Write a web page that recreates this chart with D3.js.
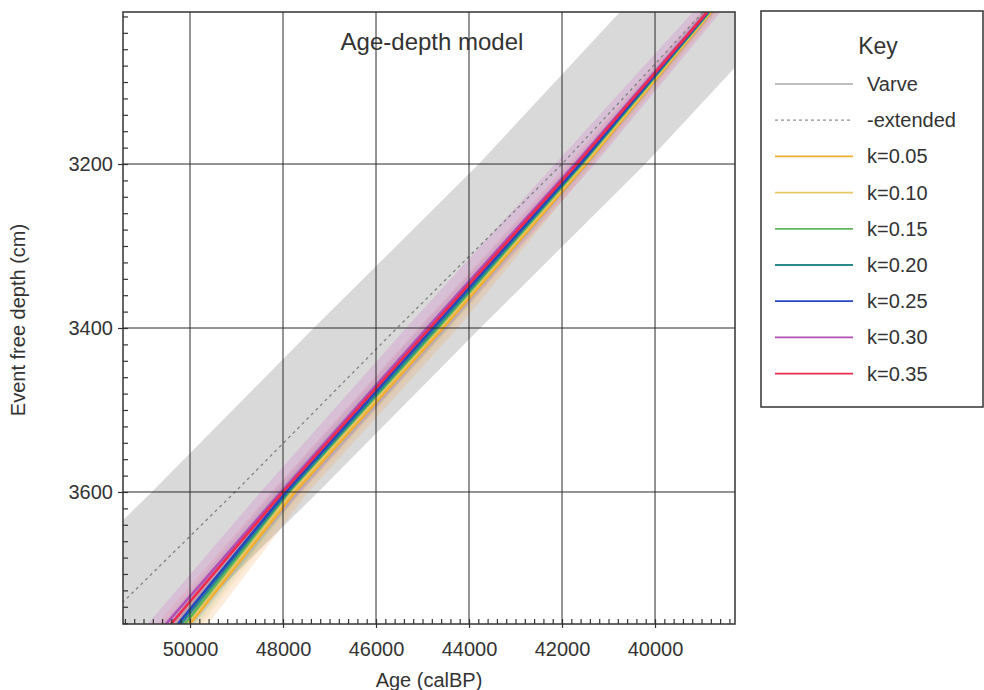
<!DOCTYPE html>
<html>
<head>
<meta charset="utf-8">
<script src="https://cdn.jsdelivr.net/npm/d3@7"></script>
<style>
  html, body { margin: 0; padding: 0; background: #fff; }
  svg { display: block; font-family: "Liberation Sans", Arial, Helvetica, sans-serif; }
</style>
</head>
<body>
<svg id="chart" width="984" height="690"></svg>
<script>
// Depth knots (cm) at which each age-depth curve is given
const depths = [3015, 3200, 3400, 3600, 3761];

// Modelled ages (cal BP) per stiffness value k
const ages_k005 = [38800, 41484, 44559, 47742, 50000];
const ages_k010 = [38820, 41527, 44624, 47806, 50067];
const ages_k015 = [38840, 41570, 44667, 47871, 50110];
const ages_k020 = [38850, 41592, 44710, 47892, 50195];
const ages_k025 = [38870, 41613, 44774, 47935, 50260];
const ages_k030 = [38890, 41721, 44903, 48043, 50518];
const ages_k035 = [38882, 41678, 44839, 48000, 50410];

// Half width (years) of each model's uncertainty envelope
const spread_k005 = [150, 150, 320, 290, 390];
const spread_k010 = [120, 150, 260, 260, 330];
const spread_k015 = [120, 150, 250, 250, 300];
const spread_k020 = [120, 150, 250, 250, 300];
const spread_k025 = [120, 200, 280, 280, 330];
const spread_k030 = [300, 430, 450, 440, 390];
const spread_k035 = [150, 200, 250, 250, 300];

// Varve chronology (solid) and its extension (dashed)
const varveDepths = [2950, 3015];
const varveAges = [37850, 38968];
const extDepths = [3015, 3200, 3400, 3600, 3761];
const extAges = [38968, 42000, 45548, 49032, 51920];
const extUncertainty = 1790;

const kLabels = ["k=0.05", "k=0.10", "k=0.15", "k=0.20", "k=0.25", "k=0.30", "k=0.35"];
const kColors = ["#f4ae2e", "#e6c766", "#5fb55a", "#2a8a8c", "#2747bd", "#b14db3", "#ee2a4e"];
const kBandColors = ["#f6a24a", "#e8c060", "#7cc070", "#3a9a9a", "#5a6ad0", "#d070c8", "#f06080"];
const kAges = [ages_k005, ages_k010, ages_k015, ages_k020, ages_k025, ages_k030, ages_k035];
const kSpread = [spread_k005, spread_k010, spread_k015, spread_k020, spread_k025, spread_k030, spread_k035];
const kBandOpacity = [0.2, 0.14, 0.12, 0.12, 0.12, 0.24, 0.14];

const xTicks = [50000, 48000, 46000, 44000, 42000, 40000];
const yTicks = [3200, 3400, 3600];

const plot = { left: 123, right: 735, top: 12, bottom: 624 };
const textColor = "#333";

const svg = d3.select("#chart");

const x = d3.scaleLinear().domain([51441, 38280]).range([plot.left, plot.right]);
const y = d3.scaleLinear().domain([3014.6, 3761]).range([plot.top, plot.bottom]);

svg.append("defs").append("clipPath").attr("id", "plotClip")
  .append("rect")
  .attr("x", plot.left).attr("y", plot.top)
  .attr("width", plot.right - plot.left).attr("height", plot.bottom - plot.top);

const g = svg.append("g").attr("clip-path", "url(#plotClip)");

// Grey envelope around the extended varve chronology
const extRows = extDepths.map((d, i) => ({ d, a: extAges[i] }));
g.append("path")
  .datum(extRows)
  .attr("fill", "#d9d9d9")
  .attr("d", d3.area()
    .y(r => y(r.d))
    .x0(r => x(r.a - extUncertainty))
    .x1(r => x(r.a + extUncertainty)));

// Uncertainty envelopes of the k models
kAges.forEach((ages, k) => {
  const rows = depths.map((d, i) => ({ d, a: ages[i], s: kSpread[k][i] }));
  g.append("path")
    .datum(rows)
    .attr("fill", kBandColors[k])
    .attr("fill-opacity", kBandOpacity[k])
    .attr("d", d3.area()
      .y(r => y(r.d))
      .x0(r => x(r.a - r.s))
      .x1(r => x(r.a + r.s)));
});

// Varve lines
g.append("path")
  .datum(varveDepths.map((d, i) => ({ d, a: varveAges[i] })))
  .attr("fill", "none").attr("stroke", "#a8a8a8").attr("stroke-width", 1.3)
  .attr("d", d3.line().x(r => x(r.a)).y(r => y(r.d)));

g.append("path")
  .datum(extRows)
  .attr("fill", "none").attr("stroke", "#808080").attr("stroke-width", 1.3)
  .attr("stroke-dasharray", "3,3.5")
  .attr("d", d3.line().x(r => x(r.a)).y(r => y(r.d)));

// Model curves
kAges.forEach((ages, k) => {
  g.append("path")
    .datum(depths.map((d, i) => ({ d, a: ages[i] })))
    .attr("fill", "none")
    .attr("stroke", kColors[k])
    .attr("stroke-width", 2.6)
    .attr("d", d3.line().x(r => x(r.a)).y(r => y(r.d)));
});

// Grid
const grid = svg.append("g").attr("stroke", "#2a2a2a").attr("stroke-width", 1);
grid.selectAll("line.vx").data(xTicks).join("line")
  .attr("x1", d => x(d)).attr("x2", d => x(d))
  .attr("y1", plot.top).attr("y2", plot.bottom);
grid.selectAll("line.hy").data(yTicks).join("line")
  .attr("x1", plot.left).attr("x2", plot.right)
  .attr("y1", d => y(d)).attr("y2", d => y(d));

// Axes: minor ticks point inward, major ticks cross the frame
const xMinor = d3.range(38400, 51441, 200);
const yMinor = d3.range(3020, 3761, 20);

const xAxisMinor = d3.axisBottom(x).tickValues(xMinor).tickSize(-5).tickFormat("");
const xAxisMajor = d3.axisBottom(x).tickValues(xTicks).tickSize(4).tickPadding(14).tickFormat(d3.format("d"));
const yAxisMinor = d3.axisLeft(y).tickValues(yMinor).tickSize(-5).tickFormat("");
const yAxisMajor = d3.axisLeft(y).tickValues(yTicks).tickSize(5).tickPadding(5).tickFormat(d3.format("d"));

function styleAxis(sel) {
  sel.select(".domain").remove();
  sel.selectAll(".tick line").attr("stroke", "#333").attr("stroke-width", 1.2);
  sel.selectAll(".tick text").attr("fill", textColor).attr("font-size", 20)
    .attr("font-family", "Liberation Sans, Arial, sans-serif");
}

svg.append("g").attr("transform", `translate(0,${plot.bottom})`).call(xAxisMinor).call(styleAxis);
svg.append("g").attr("transform", `translate(0,${plot.bottom})`).call(xAxisMajor).call(styleAxis);
svg.append("g").attr("transform", `translate(${plot.left},0)`).call(yAxisMinor).call(styleAxis);
svg.append("g").attr("transform", `translate(${plot.left},0)`).call(yAxisMajor).call(styleAxis);

// Frame
svg.append("rect")
  .attr("x", plot.left).attr("y", plot.top)
  .attr("width", plot.right - plot.left).attr("height", plot.bottom - plot.top)
  .attr("fill", "none").attr("stroke", "#333").attr("stroke-width", 1.5);

// Titles
svg.append("text")
  .attr("x", (plot.left + plot.right) / 2 + 3).attr("y", 50)
  .attr("text-anchor", "middle").attr("font-size", 24).attr("fill", textColor)
  .text("Age-depth model");

svg.append("text")
  .attr("x", (plot.left + plot.right) / 2).attr("y", 687)
  .attr("text-anchor", "middle").attr("font-size", 20).attr("fill", textColor)
  .text("Age (calBP)");

svg.append("text")
  .attr("transform", `translate(25,${(plot.top + plot.bottom) / 2 + 2}) rotate(-90)`)
  .attr("text-anchor", "middle").attr("font-size", 20).attr("fill", textColor)
  .text("Event free depth (cm)");

// Key
const key = svg.append("g");
key.append("rect")
  .attr("x", 761).attr("y", 11).attr("width", 222).attr("height", 396)
  .attr("fill", "#fff").attr("stroke", "#333").attr("stroke-width", 1.5);
key.append("text")
  .attr("x", 878).attr("y", 54).attr("text-anchor", "middle")
  .attr("font-size", 23).attr("fill", textColor).text("Key");

const keyItems = [
  { label: "Varve", color: "#a8a8a8", dash: null },
  { label: "-extended", color: "#909090", dash: "3,3" }
].concat(kLabels.map((l, i) => ({ label: l, color: kColors[i], dash: null })));

const keyRow = key.selectAll("g.item").data(keyItems).join("g")
  .attr("transform", (d, i) => `translate(0,${84 + i * 36.2})`);
keyRow.append("line")
  .attr("x1", 775).attr("x2", 853).attr("y1", 0).attr("y2", 0)
  .attr("stroke", d => d.color)
  .attr("stroke-width", (d, i) => i < 2 ? 1.3 : 1.8)
  .attr("stroke-dasharray", d => d.dash);
keyRow.append("text")
  .attr("x", 867).attr("y", 7)
  .attr("font-size", 20).attr("fill", textColor)
  .text(d => d.label);
</script>
</body>
</html>
